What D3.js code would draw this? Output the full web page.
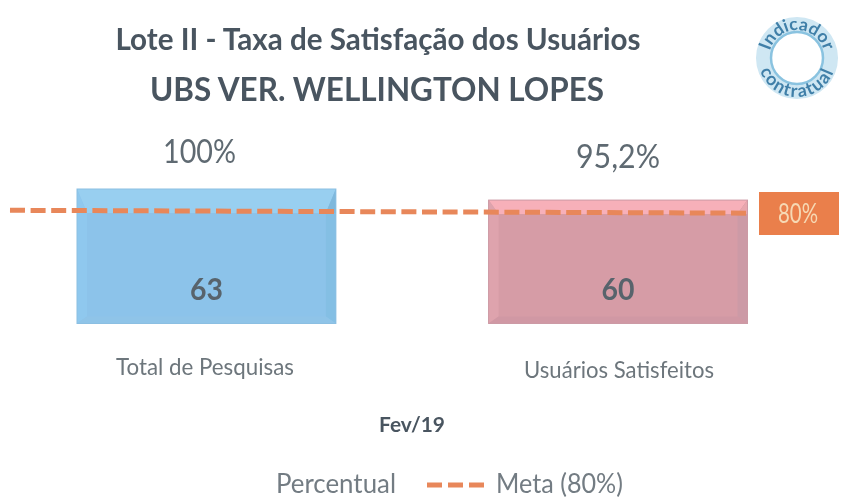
<!DOCTYPE html>
<html><head><meta charset="utf-8">
<script src="https://cdn.jsdelivr.net/npm/d3@7/dist/d3.min.js"></script>
<style>html,body{margin:0;background:#fff}svg{display:block}text{font-family:Lato,"Open Sans",sans-serif}</style>
</head><body><svg id="c" width="842" height="499"></svg>
<script>
const categories = ["Total de Pesquisas", "Usuários Satisfeitos"];
const counts = [63, 60];
const percentLabels = ["100%", "95,2%"];
const metaValue = 80;
const metaLabel = "80%";
const period = "Fev/19";
const titles = ["Lote II - Taxa de Satisfação dos Usuários", "UBS VER. WELLINGTON  LOPES"];
const legendItems = ["Percentual", "Meta (80%)"];
const badgeWords = ["Indicador", "contratual"];

const svg = d3.select("#c");
const defs = svg.append("defs");
defs.append("filter").attr("id","soft").attr("x","-5%").attr("y","-5%").attr("width","110%").attr("height","110%")
  .append("feGaussianBlur").attr("stdDeviation",0.65);
const root = svg.append("g").attr("filter","url(#soft)");

const x = d3.scaleBand().domain(categories).range([77,747.5]).paddingInner(0.371);
const y = d3.scaleLinear().domain([26.6,63]).range([323.5,189]);
const yMeta = d3.scaleLinear().domain([0,100]).range([323.5,182]);

const palette = [
  {face:"#8cc3ea",top:"#98cff0",right:"#84bfe4",bottom:"#8fc4e8",left:"#8fc8ee",edge:"#8bbfe2",corner:"#7fb8dc"},
  {face:"#d69ca6",top:"#f7b0b9",right:"#cc9aa6",bottom:"#d098a4",left:"#dea3ad",edge:"#cc9aa5",corner:"#e8a6ae"}
];
const bw = x.bandwidth();
const bars = root.selectAll("g.bar").data(categories).join("g").attr("class","bar");
bars.each(function(c,i){
  const g = d3.select(this), p = palette[i];
  const x0 = x(c), x1 = x0+bw, y0 = y(counts[i]), y1 = y(y.domain()[0]);
  const b = i===0 ? 24 : 14, s = 10;
  g.append("rect").attr("x",x0).attr("y",y0).attr("width",bw).attr("height",y1-y0).attr("fill",p.face);
  const poly = (pts,f)=>g.append("polygon").attr("points",pts.map(q=>q.join(",")).join(" ")).attr("fill",f);
  poly([[x0,y0],[x1,y0],[x1-s,y0+b],[x0+s,y0+b]],p.top);
  poly([[x0,y0],[x0+s,y0+b],[x0+s,y1-7],[x0,y1]],p.left);
  poly([[x1,y0],[x1-s,y0+b],[x1-s,y1-7],[x1,y1]],p.right);
  poly([[x0,y1],[x0+s,y1-7],[x1-s,y1-7],[x1,y1]],p.bottom);
  poly([[x1,y0],[x1-s,y0+b],[x1,y0+b]],p.corner);
  g.append("rect").attr("x",x0).attr("y",y0).attr("width",bw).attr("height",y1-y0).attr("fill","none").attr("stroke",p.edge).attr("stroke-width",1);
  g.append("text").attr("x",x0+bw/2).attr("y",300).attr("text-anchor","middle")
    .attr("font-size",31).attr("font-weight",700).attr("fill","#58646c")
    .attr("textLength",33).attr("lengthAdjust","spacingAndGlyphs").text(counts[i]);
});

const lineY = yMeta(metaValue);
root.append("line").attr("x1",10).attr("x2",748).attr("y1",lineY).attr("y2",lineY)
  .attr("transform",`rotate(0.22 10 ${lineY})`)
  .attr("stroke","#e8875a").attr("stroke-width",5).attr("stroke-dasharray","15 5.6");

root.append("rect").attr("x",759).attr("y",192).attr("width",80).attr("height",43).attr("fill","#ea7f4c");
root.append("text").attr("x",798).attr("y",223).attr("text-anchor","middle").attr("font-size",27).attr("fill","#f6d9b4")
  .attr("textLength",40).attr("lengthAdjust","spacingAndGlyphs").text(metaLabel);

root.selectAll("text.t").data(titles).join("text").attr("class","t")
  .attr("x",(d,i)=>i?377:378).attr("y",(d,i)=>i?101:50).attr("text-anchor","middle")
  .attr("font-size",(d,i)=>i?33:31).attr("font-weight",700).attr("fill","#4a5560")
  .attr("textLength",(d,i)=>i?454:525).attr("lengthAdjust","spacingAndGlyphs").text(d=>d);

const pctX = [199.5,618], pctY = [163,168];
root.selectAll("text.p").data(percentLabels).join("text").attr("class","p")
  .attr("x",(d,i)=>pctX[i]).attr("y",(d,i)=>pctY[i]).attr("text-anchor","middle")
  .attr("font-size",32).attr("fill","#5f6a72")
  .attr("textLength",(d,i)=>i?84:73).attr("lengthAdjust","spacingAndGlyphs").text(d=>d);

const catX = [205,619], catY = [375,378];
root.selectAll("text.c").data(categories).join("text").attr("class","c")
  .attr("x",(d,i)=>catX[i]).attr("y",(d,i)=>catY[i]).attr("text-anchor","middle")
  .attr("font-size",23).attr("fill","#6d767c")
  .attr("textLength",(d,i)=>i?190:178).attr("lengthAdjust","spacingAndGlyphs").text(d=>d);

root.append("text").attr("x",412).attr("y",432).attr("text-anchor","middle").attr("font-size",21).attr("font-weight",700).attr("fill","#4a5560")
  .attr("textLength",66).attr("lengthAdjust","spacingAndGlyphs").text(period);

root.append("text").attr("x",276).attr("y",493).attr("font-size",26).attr("fill","#737c83").attr("textLength",120).attr("lengthAdjust","spacingAndGlyphs").text(legendItems[0]);
root.append("line").attr("x1",427).attr("x2",484).attr("y1",485).attr("y2",485).attr("stroke","#e8875a").attr("stroke-width",5).attr("stroke-dasharray","15 6");
root.append("text").attr("x",496).attr("y",493).attr("font-size",26).attr("fill","#737c83").attr("textLength",127).attr("lengthAdjust","spacingAndGlyphs").text(legendItems[1]);

// badge
const cx=797, cy=58, rOuter=41, rInner=26;
const badge = root.append("g");
badge.append("path").attr("d",d3.arc().innerRadius(rInner).outerRadius(rOuter).startAngle(0).endAngle(2*Math.PI)())
  .attr("transform",`translate(${cx},${cy})`).attr("fill","#cfe7f3");
badge.append("circle").attr("cx",cx).attr("cy",cy).attr("r",rInner).attr("fill","#fff").attr("stroke","#8ac3e0").attr("stroke-width",2.5);
const arcPoint = (r,deg)=>[cx+r*Math.sin(deg*Math.PI/180), cy-r*Math.cos(deg*Math.PI/180)];
const [a0,a1] = [arcPoint(28,-100),arcPoint(28,100)];
const [b0,b1] = [arcPoint(39,-100),arcPoint(39,100)];
defs.append("path").attr("id","arcTop").attr("d",`M ${a0[0]} ${a0[1]} A 28 28 0 1 1 ${a1[0]} ${a1[1]}`);
defs.append("path").attr("id","arcBot").attr("d",`M ${b0[0]} ${b0[1]} A 39 39 0 0 0 ${b1[0]} ${b1[1]}`);
badge.append("text").attr("font-size",17.5).attr("font-weight",700).attr("fill","#3f7fa8")
  .append("textPath").attr("href","#arcTop").attr("startOffset","50%").attr("text-anchor","middle").text(badgeWords[0]);
badge.append("text").attr("font-size",18).attr("font-weight",700).attr("fill","#3f7fa8").attr("letter-spacing",1.5)
  .append("textPath").attr("href","#arcBot").attr("startOffset","50%").attr("text-anchor","middle").text(badgeWords[1]);
</script></body></html>
